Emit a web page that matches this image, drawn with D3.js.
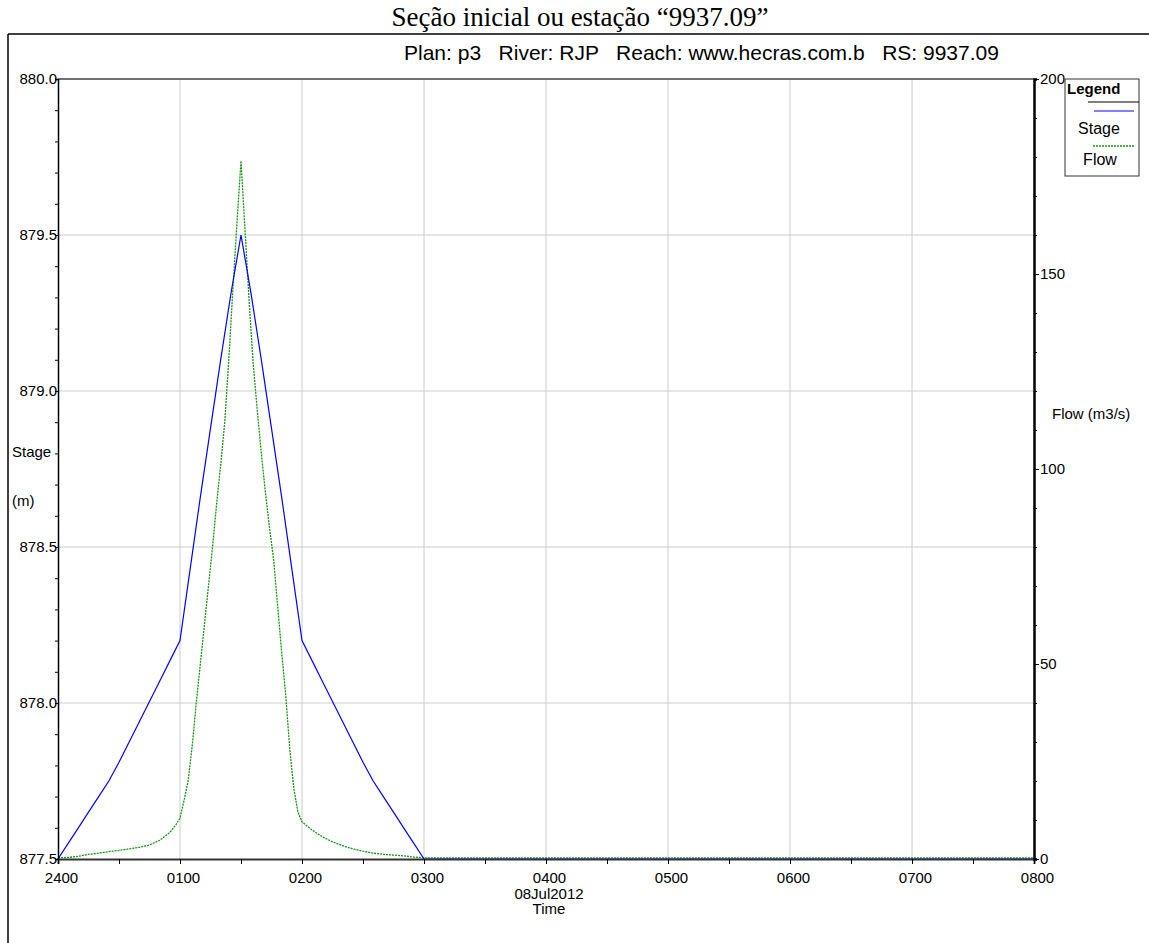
<!DOCTYPE html>
<html>
<head>
<meta charset="utf-8">
<script src="https://cdn.jsdelivr.net/npm/d3@7"></script>
<style>
  body { margin: 0; background: #fff; }
  text { font-family: "Liberation Sans", Arial, sans-serif; }
</style>
</head>
<body>
<svg id="chart" width="1149" height="943"></svg>
<script>
// time in minutes after 2400 (07Jul2012 24:00)
const stageMinutes = [0, 5, 10, 15, 20, 25, 30, 35, 40, 45, 50, 55, 60,
    65, 70, 75, 80, 85, 90, 95, 100, 105, 110, 115, 120,
    125, 130, 135, 140, 145, 150, 155, 160, 165, 170, 175, 180,
    240, 300, 360, 420, 480];
const stageValues = [877.50, 877.55, 877.60, 877.65, 877.70, 877.75, 877.81, 877.875, 877.94, 878.005, 878.07, 878.135, 878.20,
    878.43, 878.66, 878.88, 879.10, 879.31, 879.50, 879.31, 879.10, 878.88, 878.66, 878.43, 878.20,
    878.135, 878.07, 878.005, 877.94, 877.875, 877.81, 877.75, 877.70, 877.65, 877.60, 877.55, 877.50,
    877.50, 877.50, 877.50, 877.50, 877.50];

const flowMinutes = [0, 5, 10, 15, 20, 25, 30, 35, 40, 45, 50, 55, 58, 60,
    62, 64, 66, 68, 70, 72, 74, 76, 78, 80, 82, 84, 86, 88, 90,
    92, 94, 96, 98, 100, 102, 104, 106, 108, 110, 112, 114, 116, 118, 120,
    125, 130, 135, 140, 145, 150, 155, 160, 165, 170, 175, 180,
    240, 300, 360, 420, 480];
const flowValues = [0.3, 0.4, 0.7, 1.2, 1.5, 1.9, 2.2, 2.6, 3.0, 3.6, 4.8, 6.8, 8.8, 10.5,
    15, 20, 29, 40, 50, 60, 70, 80, 91, 101, 112, 128, 146, 163, 179,
    161, 143, 127, 115, 104, 94, 85, 77, 65, 53, 42, 28, 18, 12, 9.5,
    7.4, 5.7, 4.4, 3.4, 2.6, 2.0, 1.5, 1.2, 1.0, 0.8, 0.5, 0.3,
    0.3, 0.3, 0.3, 0.3, 0.3];

const timeLabels = ["2400", "0100", "0200", "0300", "0400", "0500", "0600", "0700", "0800"];
const stageTicks = [877.5, 878.0, 878.5, 879.0, 879.5, 880.0];
const flowTicks = [0, 50, 100, 150, 200];

const plotLeft = 58, plotRight = 1034, plotTop = 79, plotBottom = 859;

const svg = d3.select("#chart");

const x = d3.scaleLinear().domain([0, 480]).range([plotLeft, plotRight]);
const yStage = d3.scaleLinear().domain([877.5, 880]).range([plotBottom, plotTop]);
const yFlow = d3.scaleLinear().domain([0, 200]).range([plotBottom, plotTop]);

// outer frame
svg.append("line").attr("x1", 8).attr("x2", 1149).attr("y1", 34).attr("y2", 34)
    .attr("stroke", "#000").attr("stroke-width", 1.5);
svg.append("line").attr("x1", 8).attr("x2", 8).attr("y1", 34).attr("y2", 943)
    .attr("stroke", "#000").attr("stroke-width", 1.5);

// titles
svg.append("text")
    .attr("x", 580).attr("y", 26)
    .attr("text-anchor", "middle")
    .style("font-family", "'Liberation Serif', 'Times New Roman', serif")
    .style("font-size", "27px")
    .text("Seção inicial ou estação “9937.09”");

svg.append("text")
    .attr("x", 404).attr("y", 60)
    .attr("xml:space", "preserve")
    .style("white-space", "pre")
    .style("font-size", "21px")
    .text("Plan: p3   River: RJP   Reach: www.hecras.com.b   RS: 9937.09");

// grid
const grid = svg.append("g").attr("stroke", "#cccccc").attr("stroke-width", 1);
d3.range(60, 480, 60).forEach(m => {
    grid.append("line").attr("x1", x(m)).attr("x2", x(m))
        .attr("y1", plotTop).attr("y2", plotBottom);
});
stageTicks.slice(1, -1).forEach(v => {
    grid.append("line").attr("x1", plotLeft).attr("x2", plotRight)
        .attr("y1", yStage(v)).attr("y2", yStage(v));
});

// series
const stageData = stageMinutes.map((m, i) => ({ m: m, v: stageValues[i] }));
const flowData = flowMinutes.map((m, i) => ({ m: m, v: flowValues[i] }));

svg.append("path")
    .attr("d", d3.line().x(d => x(d.m)).y(d => yFlow(d.v))(flowData))
    .attr("fill", "none")
    .attr("stroke", "#149414")
    .attr("stroke-width", 1.3)
    .attr("stroke-dasharray", "2,1");

svg.append("path")
    .attr("d", d3.line().x(d => x(d.m)).y(d => yStage(d.v))(stageData))
    .attr("fill", "none")
    .attr("stroke", "#0000ff")
    .attr("stroke-width", 1.2);

// plot border top
svg.append("line").attr("x1", plotLeft).attr("x2", plotRight)
    .attr("y1", plotTop).attr("y2", plotTop)
    .attr("stroke", "#707070").attr("stroke-width", 2);

// x axis
const xAxis = d3.axisBottom(x)
    .tickValues(d3.range(0, 481, 30))
    .tickSize(5)
    .tickPadding(8)
    .tickFormat(m => m % 60 === 0 ? timeLabels[m / 60] : "");
const gx = svg.append("g").attr("transform", `translate(0,${plotBottom})`).call(xAxis);
gx.select(".domain").attr("stroke", "#333").attr("stroke-width", 2);
gx.selectAll("text").style("font-size", "15px").attr("fill", "#000").attr("dx", 3);

svg.append("text").attr("x", x(240) + 3).attr("y", 899).attr("text-anchor", "middle")
    .style("font-size", "15px").text("08Jul2012");
svg.append("text").attr("x", x(240) + 3).attr("y", 914).attr("text-anchor", "middle")
    .style("font-size", "15px").text("Time");

// left axis: minor ticks
const gyMinor = svg.append("g").attr("transform", `translate(${plotLeft},0)`)
    .call(d3.axisLeft(yStage).tickValues(d3.range(877.5, 880.01, 0.1)).tickSize(3).tickFormat(""));
gyMinor.select(".domain").attr("stroke", "#000").attr("stroke-width", 1.5);

const gyLabels = svg.append("g").attr("transform", `translate(${plotLeft},0)`)
    .call(d3.axisLeft(yStage).tickValues(stageTicks).tickSize(0).tickPadding(1).tickFormat(d3.format(".1f")));
gyLabels.select(".domain").remove();
gyLabels.selectAll("text").style("font-size", "15px").attr("fill", "#000");

svg.append("text").attr("x", 12).attr("y", 457).style("font-size", "15px").text("Stage");
svg.append("text").attr("x", 12).attr("y", 506).style("font-size", "15px").text("(m)");

// right axis
const gfMinor = svg.append("g").attr("transform", `translate(${plotRight},0)`)
    .call(d3.axisRight(yFlow).tickValues(d3.range(0, 201, 10)).tickSize(3).tickFormat(""));
gfMinor.select(".domain").attr("stroke", "#000").attr("stroke-width", 2.5);

const gfLabels = svg.append("g").attr("transform", `translate(${plotRight},0)`)
    .call(d3.axisRight(yFlow).tickValues(flowTicks).tickSize(5).tickPadding(1));
gfLabels.select(".domain").remove();
gfLabels.selectAll("text").style("font-size", "15px").attr("fill", "#000");

svg.append("text").attr("x", 1052).attr("y", 419).style("font-size", "15px").text("Flow (m3/s)");

// legend
const legend = svg.append("g");
legend.append("rect").attr("x", 1065).attr("y", 79).attr("width", 74).attr("height", 97)
    .attr("fill", "#fff").attr("stroke", "#333").attr("stroke-width", 1);
legend.append("text").attr("x", 1067).attr("y", 94)
    .style("font-size", "15px").style("font-weight", "bold").text("Legend");
legend.append("line").attr("x1", 1088).attr("x2", 1139).attr("y1", 102).attr("y2", 102)
    .attr("stroke", "#000").attr("stroke-width", 1);
legend.append("line").attr("x1", 1094).attr("x2", 1134).attr("y1", 111).attr("y2", 111)
    .attr("stroke", "#0000ff").attr("stroke-width", 1.2);
legend.append("text").attr("x", 1099).attr("y", 134).attr("text-anchor", "middle")
    .style("font-size", "16px").text("Stage");
legend.append("line").attr("x1", 1093).attr("x2", 1134).attr("y1", 146).attr("y2", 146)
    .attr("stroke", "#149414").attr("stroke-width", 1.3).attr("stroke-dasharray", "2,1");
legend.append("text").attr("x", 1100).attr("y", 165).attr("text-anchor", "middle")
    .style("font-size", "16px").text("Flow");
</script>
</body>
</html>
